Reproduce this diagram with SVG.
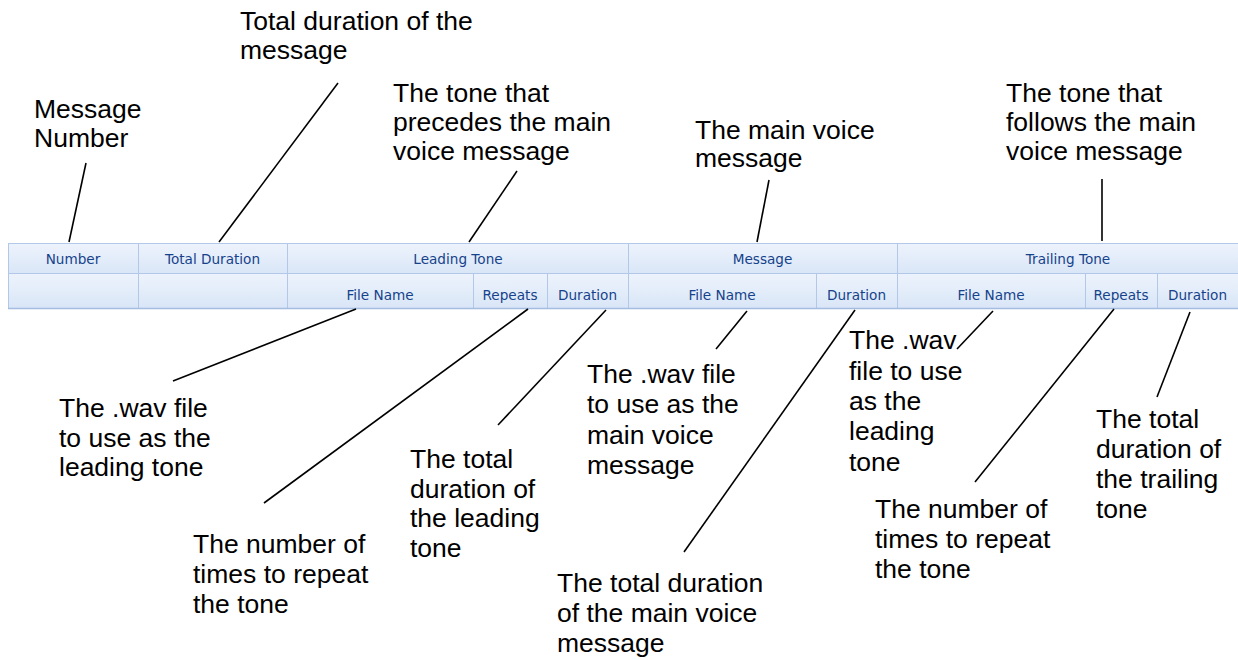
<svg xmlns="http://www.w3.org/2000/svg" width="1238" height="660" viewBox="0 0 1238 660">
<style>
.lbl{font-family:"Liberation Sans",Arial,sans-serif;font-size:26.5px;fill:#000}
.hd{font-family:"DejaVu Sans","Liberation Sans",sans-serif;font-size:13.6px;fill:#15428b;text-anchor:middle}
.cell{fill:url(#g);stroke:#b3c8e8;stroke-width:1}
.con{stroke:#000;stroke-width:1.6;fill:none}
</style>
<defs>
<linearGradient id="g" x1="0" y1="0" x2="0" y2="1">
<stop offset="0" stop-color="#edf3fc"/>
<stop offset="1" stop-color="#d9e6f7"/>
</linearGradient>
</defs>
<rect width="1238" height="660" fill="#fff"/>
<g id="table">
<rect class="cell" x="8.5" y="243.5" width="130" height="30"/>
<rect class="cell" x="138.5" y="243.5" width="149" height="30"/>
<rect class="cell" x="287.5" y="243.5" width="341" height="30"/>
<rect class="cell" x="628.5" y="243.5" width="269" height="30"/>
<rect class="cell" x="897.5" y="243.5" width="345" height="30"/>
<rect class="cell" x="8.5" y="273.5" width="130" height="35"/>
<rect class="cell" x="138.5" y="273.5" width="149" height="35"/>
<rect class="cell" x="287.5" y="273.5" width="186" height="35"/>
<rect class="cell" x="473.5" y="273.5" width="74" height="35"/>
<rect class="cell" x="547.5" y="273.5" width="81" height="35"/>
<rect class="cell" x="628.5" y="273.5" width="188" height="35"/>
<rect class="cell" x="816.5" y="273.5" width="81" height="35"/>
<rect class="cell" x="897.5" y="273.5" width="188" height="35"/>
<rect class="cell" x="1085.5" y="273.5" width="72" height="35"/>
<rect class="cell" x="1157.5" y="273.5" width="85" height="35"/>
<line x1="8" y1="308.5" x2="1238" y2="308.5" stroke="#a3bcdf" stroke-width="1.5"/>
<text class="hd" x="73" y="264">Number</text>
<text class="hd" x="212.5" y="264">Total Duration</text>
<text class="hd" x="458" y="264">Leading Tone</text>
<text class="hd" x="762.5" y="264">Message</text>
<text class="hd" x="1068" y="264">Trailing Tone</text>
<text class="hd" x="380" y="300">File Name</text>
<text class="hd" x="510" y="300">Repeats</text>
<text class="hd" x="587.5" y="300">Duration</text>
<text class="hd" x="722" y="300">File Name</text>
<text class="hd" x="856.5" y="300">Duration</text>
<text class="hd" x="991" y="300">File Name</text>
<text class="hd" x="1121" y="300">Repeats</text>
<text class="hd" x="1197.5" y="300">Duration</text>
</g>
<g id="connectors">
<line class="con" x1="86" y1="163" x2="69" y2="242"/>
<line class="con" x1="338" y1="83" x2="219" y2="242"/>
<line class="con" x1="517" y1="171" x2="469" y2="242"/>
<line class="con" x1="769" y1="180" x2="757" y2="242"/>
<line class="con" x1="1102" y1="179" x2="1102" y2="241"/>
<line class="con" x1="356" y1="309" x2="173" y2="381"/>
<line class="con" x1="528" y1="309" x2="264" y2="503"/>
<line class="con" x1="606" y1="310" x2="498" y2="425"/>
<line class="con" x1="747" y1="311" x2="716" y2="349"/>
<line class="con" x1="855" y1="310" x2="684" y2="552"/>
<line class="con" x1="993" y1="311" x2="957" y2="349"/>
<line class="con" x1="1114" y1="309" x2="975" y2="482"/>
<line class="con" x1="1190" y1="312" x2="1157" y2="397"/>
</g>
<g id="total-duration-note"><text class="lbl" x="240" y="30">Total duration of the</text><text class="lbl" x="240" y="59">message</text></g>
<g id="message-number-note"><text class="lbl" x="34" y="118">Message</text><text class="lbl" x="34" y="147">Number</text></g>
<g id="leading-tone-note"><text class="lbl" x="393" y="102">The tone that</text><text class="lbl" x="393" y="131">precedes the main</text><text class="lbl" x="393" y="160">voice message</text></g>
<g id="message-note"><text class="lbl" x="695" y="139">The main voice</text><text class="lbl" x="695" y="167">message</text></g>
<g id="trailing-tone-note"><text class="lbl" x="1006" y="102">The tone that</text><text class="lbl" x="1006" y="131">follows the main</text><text class="lbl" x="1006" y="160">voice message</text></g>
<g id="lt-file-note"><text class="lbl" x="59" y="417">The .wav file</text><text class="lbl" x="59" y="447">to use as the</text><text class="lbl" x="59" y="476">leading tone</text></g>
<g id="lt-repeats-note"><text class="lbl" x="193" y="553">The number of</text><text class="lbl" x="193" y="583">times to repeat</text><text class="lbl" x="193" y="613">the tone</text></g>
<g id="lt-duration-note"><text class="lbl" x="410" y="468">The total</text><text class="lbl" x="410" y="498">duration of</text><text class="lbl" x="410" y="527">the leading</text><text class="lbl" x="410" y="557">tone</text></g>
<g id="msg-file-note"><text class="lbl" x="587" y="383">The .wav file</text><text class="lbl" x="587" y="413">to use as the</text><text class="lbl" x="587" y="444">main voice</text><text class="lbl" x="587" y="474">message</text></g>
<g id="msg-duration-note"><text class="lbl" x="557" y="592">The total duration</text><text class="lbl" x="557" y="622">of the main voice</text><text class="lbl" x="557" y="652">message</text></g>
<g id="tt-file-note"><text class="lbl" x="849" y="349">The .wav</text><text class="lbl" x="849" y="380">file to use</text><text class="lbl" x="849" y="410">as the</text><text class="lbl" x="849" y="440">leading</text><text class="lbl" x="849" y="471">tone</text></g>
<g id="tt-repeats-note"><text class="lbl" x="875" y="518">The number of</text><text class="lbl" x="875" y="548">times to repeat</text><text class="lbl" x="875" y="578">the tone</text></g>
<g id="tt-duration-note"><text class="lbl" x="1096" y="428">The total</text><text class="lbl" x="1096" y="458">duration of</text><text class="lbl" x="1096" y="488">the trailing</text><text class="lbl" x="1096" y="518">tone</text></g>
</svg>
